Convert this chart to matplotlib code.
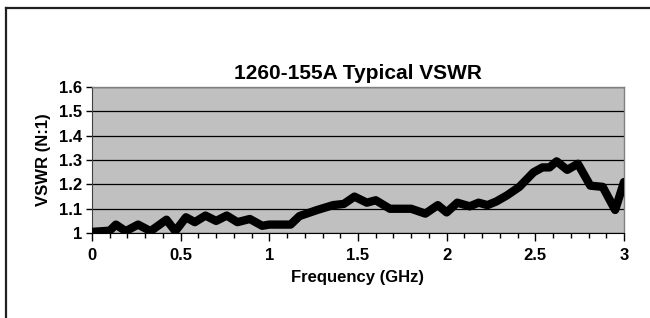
import matplotlib.pyplot as plt
from matplotlib.lines import Line2D
from matplotlib.ticker import MultipleLocator

plt.rcParams['font.family'] = ['Liberation Sans', 'DejaVu Sans']

# frequency (GHz) and VSWR
freq = [0.0, 0.1, 0.135, 0.19, 0.26, 0.33, 0.42, 0.47, 0.53, 0.58, 0.64, 0.70,
        0.76, 0.82, 0.89, 0.96, 1.0, 1.12, 1.17, 1.27, 1.36, 1.42, 1.48, 1.55,
        1.60, 1.68, 1.74, 1.80, 1.88, 1.95, 2.0, 2.06, 2.13, 2.18, 2.23, 2.28,
        2.34, 2.41, 2.49, 2.54, 2.58, 2.62, 2.68, 2.74, 2.81, 2.88, 2.95, 3.0]
vswr = [1.005, 1.01, 1.035, 1.008, 1.035, 1.008, 1.055, 1.008, 1.065, 1.045, 1.072, 1.05,
        1.072, 1.045, 1.058, 1.03, 1.035, 1.035, 1.07, 1.095, 1.115, 1.12, 1.15, 1.125,
        1.135, 1.10, 1.10, 1.10, 1.08, 1.115, 1.085, 1.125, 1.11, 1.125, 1.115, 1.13,
        1.155, 1.19, 1.25, 1.27, 1.27, 1.295, 1.26, 1.285, 1.195, 1.19, 1.095, 1.21]

yticks = [1, 1.1, 1.2, 1.3, 1.4, 1.5, 1.6]
ylabels = ['1', '1.1', '1.2', '1.3', '1.4', '1.5', '1.6']
xticks = [0, 0.5, 1, 1.5, 2, 2.5, 3]
xlabels = ['0', '0.5', '1', '1.5', '2', '2.5', '3']

fig = plt.figure(figsize=(6.5, 3.18), dpi=100)
ax = fig.add_axes([0.1415, 0.267, 0.8185, 0.459])
ax.set_facecolor('#c0c0c0')

ax.plot(freq, vswr, color='black', lw=6, solid_joinstyle='round', solid_capstyle='round',
        zorder=3)

ax.set_xlim(0, 3)
ax.set_ylim(1, 1.6)
ax.set_yticks(yticks)
ax.set_yticklabels(ylabels, fontsize=12, fontweight='bold')
ax.set_xticks(xticks)
ax.set_xticklabels(xlabels, fontsize=12, fontweight='bold')
ax.xaxis.set_minor_locator(MultipleLocator(0.1))
ax.tick_params(axis='x', which='major', length=6, width=1, pad=5)
ax.tick_params(axis='x', which='minor', length=3.5, width=1)
ax.tick_params(axis='y', length=4, width=1, pad=3)
ax.grid(axis='y', color='black', lw=0.9)
ax.set_axisbelow(True)

for s in ['top', 'right']:
    ax.spines[s].set_color('#808080')
    ax.spines[s].set_linewidth(1)
ax.spines['left'].set_color('#404040')
ax.spines['bottom'].set_color('black')

ax.set_title('1260-155A Typical VSWR', fontsize=15, fontweight='bold', pad=6)
ax.set_xlabel('Frequency (GHz)', fontsize=12, fontweight='bold', labelpad=5)
ax.set_ylabel('VSWR (N:1)', fontsize=12, fontweight='bold', labelpad=6)

# outer chart frame (top and left edges visible)
fig.add_artist(Line2D([6 / 650, 1], [1 - 8 / 318, 1 - 8 / 318], color='#202020', lw=1.6))
fig.add_artist(Line2D([6 / 650, 6 / 650], [0, 1 - 8 / 318], color='#202020', lw=1.6))

fig.savefig('out.png', dpi=100)
